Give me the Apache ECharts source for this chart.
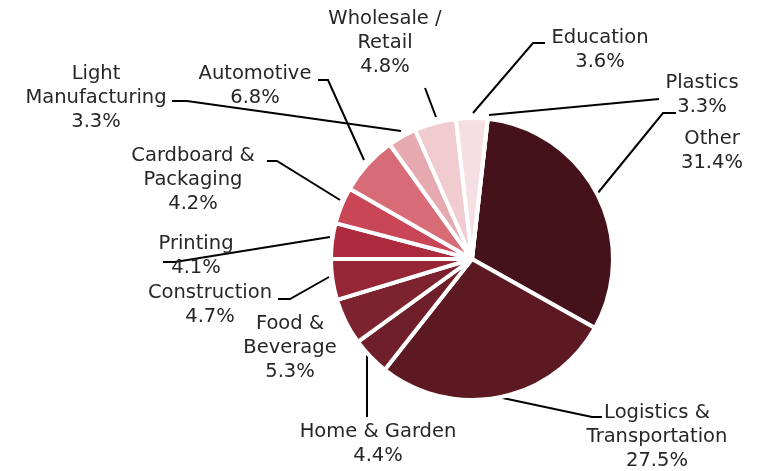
<!DOCTYPE html>
<html>
<head>
<meta charset="utf-8">
<script src="https://cdn.jsdelivr.net/npm/echarts@6/dist/echarts.min.js"></script>
<style>
	html, body { margin: 0; padding: 0; background: #fff; }
	#chart { width: 759px; height: 471px; }
</style>
</head>
<body>
<div id="chart"></div>
<script>
// slices clockwise from the top; Plastics has a label but no visible slice
var categories = ['Other', 'Logistics &\nTransportation', 'Home & Garden', 'Food &\nBeverage',
	'Construction', 'Printing', 'Cardboard &\nPackaging', 'Automotive',
	'Light\nManufacturing', 'Wholesale /\nRetail', 'Education', 'Plastics'];
var values = [31.4, 27.5, 4.4, 5.3, 4.7, 4.1, 4.2, 6.8, 3.3, 4.8, 3.6, 0];
var pctLabels = ['31.4%', '27.5%', '4.4%', '5.3%', '4.7%', '4.1%', '4.2%', '6.8%', '3.3%', '4.8%', '3.6%', '3.3%'];

var colors = ['#45121b', '#5c1921', '#6e1f29', '#7d222f', '#962636', '#ac2b3e',
	'#c94657', '#d76b76', '#e6a9b0', '#f0cbd0', '#f6dfe2', '#f6dfe2'];

// label block centres and leader lines
var labelPos = [
	[712, 151], [657, 437], [378, 444], [290, 348], [210, 305], [196, 256],
	[193, 180], [255, 86], [96, 98], [385, 43], [600, 50], [702, 95]
];
var leaders = [
	[[597, 194], [663, 113], [676, 113]],
	[[498, 397], [592, 417], [602, 417]],
	[[367, 355], [367, 417], [367, 417]],
	null,
	[[329, 277], [290, 299], [278, 299]],
	[[330, 237], [175, 262], [163, 262]],
	[[340, 200], [277, 161], [267, 161]],
	[[364, 160], [328, 80], [318, 80]],
	[[401, 131], [187, 101], [172, 101]],
	[[436, 117], [425, 88], [425, 88]],
	[[473, 113], [533, 43], [545, 43]],
	[[489, 115], [659, 99], [659, 99]]
];

var myChart = echarts.init(document.getElementById('chart'));

var option = {
	animation: false,
	series: [{
		type: 'pie',
		center: [472, 259],
		radius: 141,
		startAngle: 83.6,
		clockwise: true,
		avoidLabelOverlap: false,
		itemStyle: {
			borderColor: '#fff',
			borderWidth: 4
		},
		label: {
			show: true,
			position: 'outside',
			color: '#262626',
			fontFamily: 'DejaVu Sans',
			fontSize: 19.5,
			lineHeight: 24,
			align: 'center',
			formatter: function (p) {
				return categories[p.dataIndex] + '\n' + pctLabels[p.dataIndex];
			}
		},
		labelLine: {
			show: true,
			lineStyle: { color: '#000', width: 2 }
		},
		labelLayout: function (params) {
			var i = params.dataIndex;
			var res = {
				x: labelPos[i][0],
				y: labelPos[i][1],
				align: 'center',
				verticalAlign: 'middle'
			};
			if (leaders[i]) {
				res.labelLinePoints = leaders[i];
			}
			return res;
		},
		data: categories.map(function (name, i) {
			var item = {
				name: name,
				value: values[i],
				itemStyle: { color: colors[i] }
			};
			if (!leaders[i]) {
				item.labelLine = { show: false };
			}
			return item;
		})
	}]
};

myChart.setOption(option);
</script>
</body>
</html>
